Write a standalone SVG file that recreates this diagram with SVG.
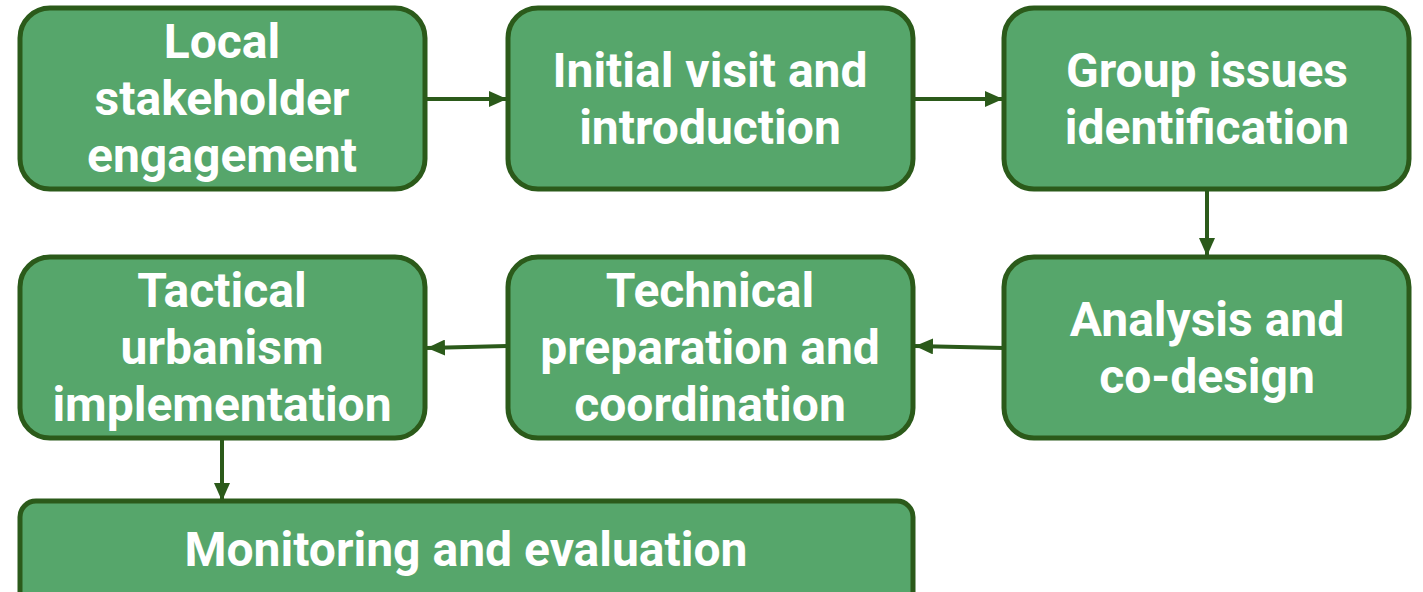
<svg xmlns="http://www.w3.org/2000/svg" width="1423" height="592" viewBox="0 0 1423 592">
<style>
.box{fill:#56a66b;stroke:#2b5a1a;stroke-width:5}
.t{fill:#fff;font-family:Roboto,"Liberation Sans",sans-serif;font-weight:bold;font-size:48px;text-anchor:middle}
.c{stroke:#2b5a1a;stroke-width:4;fill:none;marker-end:url(#ah)}
</style>
<defs>
<marker id="ah" viewBox="0 0 10 10" refX="10" refY="5" markerWidth="4.5" markerHeight="4" orient="auto" markerUnits="strokeWidth" preserveAspectRatio="none">
<path d="M0,0 L10,5 L0,10 Z" fill="#2b5a1a"/>
</marker>
</defs>
<rect width="1423" height="592" fill="#fff"/>
<g id="connectors">
<line class="c" x1="426" y1="99" x2="507" y2="99"/>
<line class="c" x1="914" y1="99" x2="1003" y2="99"/>
<line class="c" x1="1207" y1="190" x2="1207" y2="256"/>
<line class="c" x1="1004" y1="348" x2="915" y2="346"/>
<line class="c" x1="507" y1="346" x2="427" y2="348"/>
<line class="c" x1="222" y1="438" x2="222" y2="501"/>
</g>
<g id="n1"><rect class="box" x="20" y="8" width="405" height="181" rx="30"/>
<text class="t"><tspan x="222" y="58">Local</tspan><tspan x="222" y="115">stakeholder</tspan><tspan x="222" y="172">engagement</tspan></text></g>
<g id="n2"><rect class="box" x="508" y="8" width="405" height="181" rx="30"/>
<text class="t"><tspan x="710" y="87">Initial visit and</tspan><tspan x="710" y="144">introduction</tspan></text></g>
<g id="n3"><rect class="box" x="1004" y="8" width="405" height="181" rx="30"/>
<text class="t"><tspan x="1207" y="87">Group issues</tspan><tspan x="1207" y="144">identification</tspan></text></g>
<g id="n4"><rect class="box" x="20" y="257" width="405" height="181" rx="30"/>
<text class="t"><tspan x="222" y="307">Tactical</tspan><tspan x="222" y="364">urbanism</tspan><tspan x="222" y="421">implementation</tspan></text></g>
<g id="n5"><rect class="box" x="508" y="257" width="405" height="181" rx="30"/>
<text class="t"><tspan x="710" y="307">Technical</tspan><tspan x="710" y="364">preparation and</tspan><tspan x="710" y="421">coordination</tspan></text></g>
<g id="n6"><rect class="box" x="1004" y="257" width="405" height="181" rx="30"/>
<text class="t"><tspan x="1207" y="336">Analysis and</tspan><tspan x="1207" y="393">co-design</tspan></text></g>
<g id="n7"><rect class="box" x="20" y="501" width="893" height="120" rx="16"/>
<text class="t" x="466" y="566">Monitoring and evaluation</text></g>
</svg>
